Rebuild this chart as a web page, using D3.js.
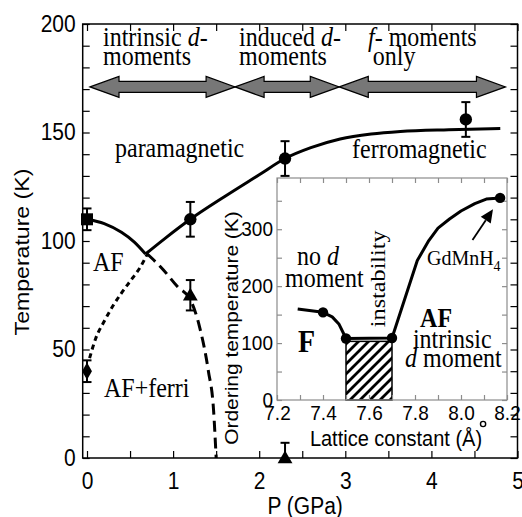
<!DOCTYPE html>
<html>
<head>
<meta charset="utf-8">
<script src="https://cdn.jsdelivr.net/npm/d3@7"></script>
<style>body{margin:0;background:#fff}</style>
</head>
<body>
<script>
const width = 522, height = 517;
const sans = "'Liberation Sans', Arial, sans-serif";
const serif = "'Liberation Serif', 'Times New Roman', serif";

// ---- main panel: T (K) vs P (GPa)
const xTicksMain = d3.range(0, 10.1, 1).map(d => d / 2);
const yTicksMain = d3.range(0, 201, 10);
// AF transition (left branch) and Curie line (right branch), solid
const neelLine = [[0,110],[0.2,108],[0.4,104],[0.55,99.5],[0.68,94]];
const curieLine = [[0.68,94],[0.9,101],[1.2,110],[1.6,120.5],[2.0,130.5],[2.3,138],[2.6,143],[2.94,147],[3.3,149.3],[3.64,150.5],[4.2,151.3],[4.8,151.8]];
// ferri boundary (dotted) and AF boundary under pressure (dashed)
const ferriLine = [[0.03,46],[0.1,55],[0.2,63],[0.3,70],[0.4,76],[0.53,83],[0.62,88],[0.7,94]];
const afLine = [[0.7,94],[0.88,87],[1.05,79],[1.2,73],[1.31,60],[1.41,40],[1.47,22],[1.5,0]];
// measured points: pressure, temperature, error, symbol
const points = [
  {p:0, t:110, lo:5, hi:5, sym:"square"},
  {p:1.2, t:110, lo:8, hi:8, sym:"circle"},
  {p:2.3, t:138, lo:8, hi:8, sym:"circle"},
  {p:4.4, t:156, lo:8, hi:8, sym:"circle"},
  {p:1.2, t:75, lo:7, hi:7, sym:"triangle"},
  {p:0, t:40, lo:5, hi:5, sym:"diamond"},
  {p:2.3, t:0, lo:0, hi:7, sym:"triangle"}
];
// regime arrows at top
const regimeT = 171;
const regimeArrows = [[0.035,1.72],[1.72,2.93],[2.93,4.86]];
const regimeLabels = [
  {p:0.186, line1:[["intrinsic ",""],["d","italic"],["-",""]], p2:0.186, line2:"moments"},
  {p:1.765, line1:[["induced ",""],["d","italic"],["-",""]], p2:1.765, line2:"moments"},
  {p:3.264, line1:[["f","italic"],["- moments",""]], p2:3.32, line2:"only"}
];

// ---- inset: ordering temperature vs lattice constant
const xTicksInset = d3.range(72, 83).map(d => d / 10);
const yTicksInset = d3.range(0, 351, 50);
const latticeCurve = [[7.29,160],[7.4,154],[7.44,146],[7.47,133],[7.5,108],[7.7,109],[7.81,245],[7.86,280],[7.9,302],[7.95,318],[8.0,332],[8.06,345],[8.11,353],[8.17,355]];
const latticeDots = [[7.4,154],[7.5,108],[7.7,109],[8.17,355]];
const instabilityBand = {from:7.5, to:7.7, top:103};

const svg = d3.select("body").append("svg")
  .attr("width", width).attr("height", height)
  .style("display", "block");

const x = d3.scaleLinear().domain([-0.05, 5]).range([82.7, 517.5]);
const y = d3.scaleLinear().domain([0, 200]).range([458, 24]);

function addText(g, px, py, parts, o = {}) {
  const t = g.append("text")
    .attr("transform", `translate(${px},${py}) scale(1,1.1)` + (o.rotate ? " rotate(-90)" : ""))
    .attr("font-family", o.family || serif)
    .attr("font-size", o.size || 24)
    .attr("font-weight", o.weight || "normal")
    .attr("text-anchor", o.anchor || "start")
    .attr("fill", "#000");
  if (typeof parts === "string") parts = [[parts, ""]];
  parts.forEach(([s, st]) => {
    const ts = t.append("tspan").text(s);
    if (st === "italic") ts.attr("font-style", "italic");
    if (st === "sub") ts.attr("font-size", (o.size || 24) * 0.7).attr("dy", 5);
  });
  return t;
}

function styleAxis(g, size, color) {
  g.select(".domain").remove();
  g.selectAll(".tick line").attr("stroke", color).attr("stroke-width", 1.2);
  g.selectAll(".tick text")
    .attr("font-family", sans).attr("font-size", size).attr("fill", "#000")
    .attr("transform", "scale(1,1.1)");
}

// main axes
svg.append("g").attr("transform", `translate(${x.range()[0]},0)`)
  .call(d3.axisLeft(y).tickValues(yTicksMain).tickSize(-7).tickPadding(7).tickFormat(d => d % 50 === 0 ? d : ""))
  .call(styleAxis, 21, "#000");
svg.append("g").attr("transform", `translate(${x.range()[1]},0)`)
  .call(d3.axisRight(y).tickValues(yTicksMain).tickSize(-7).tickFormat(""))
  .call(styleAxis, 21, "#000");
svg.append("g").attr("transform", `translate(0,${y.range()[0]})`)
  .call(d3.axisBottom(x).tickValues(xTicksMain).tickSize(-7).tickPadding(13).tickFormat(d => Number.isInteger(d) ? d : ""))
  .call(styleAxis, 21, "#000");
svg.append("g").attr("transform", `translate(0,${y.range()[1]})`)
  .call(d3.axisTop(x).tickValues(xTicksMain).tickSize(-7).tickFormat(""))
  .call(styleAxis, 21, "#000");
svg.append("rect")
  .attr("x", x.range()[0]).attr("y", y.range()[1])
  .attr("width", x.range()[1] - x.range()[0]).attr("height", y.range()[0] - y.range()[1])
  .attr("fill", "none").attr("stroke", "#000").attr("stroke-width", 1.5);

addText(svg, (x.range()[0] + x.range()[1]) / 2 + 5, 514, "P (GPa)", {family: sans, size: 21, anchor: "middle"});
addText(svg, 29, 252, "Temperature (K)", {family: sans, size: 21, anchor: "middle", rotate: true});

// regime arrows
const arrowPath = (x1, x2, cy) => {
  const h = 5.5, H = 10.5, L = 29;
  return `M${x1},${cy}L${x1+L},${cy-H}L${x1+L},${cy-h}L${x2-L},${cy-h}L${x2-L},${cy-H}L${x2},${cy}` +
         `L${x2-L},${cy+H}L${x2-L},${cy+h}L${x1+L},${cy+h}L${x1+L},${cy+H}Z`;
};
svg.selectAll("path.regime").data(regimeArrows).enter().append("path")
  .attr("class", "regime")
  .attr("d", d => arrowPath(x(d[0]), x(d[1]), y(regimeT)))
  .attr("fill", "#777").attr("stroke", "#000").attr("stroke-width", 1.2);
regimeLabels.forEach(r => {
  addText(svg, x(r.p), y(189.9), r.line1);
  addText(svg, x(r.p2), y(181.1), r.line2);
});

// phase lines
const line = d3.line().x(d => x(d[0])).y(d => y(d[1])).curve(d3.curveMonotoneX);
svg.append("path").attr("d", line(neelLine)).attr("fill", "none").attr("stroke", "#000").attr("stroke-width", 3);
svg.append("path").attr("d", line(curieLine)).attr("fill", "none").attr("stroke", "#000").attr("stroke-width", 3);
svg.append("path").attr("d", line(ferriLine)).attr("fill", "none").attr("stroke", "#000").attr("stroke-width", 3).attr("stroke-dasharray", "5,4");
svg.append("path").attr("d", line(afLine)).attr("fill", "none").attr("stroke", "#000").attr("stroke-width", 3).attr("stroke-dasharray", "11,6");

// error bars and markers
const eb = svg.append("g").selectAll("g").data(points).enter().append("g");
eb.append("line").attr("x1", d => x(d.p)).attr("x2", d => x(d.p))
  .attr("y1", d => y(d.t - d.lo)).attr("y2", d => y(d.t + d.hi))
  .attr("stroke", "#000").attr("stroke-width", 2);
eb.filter(d => d.hi > 0).append("line").attr("x1", d => x(d.p) - 4.5).attr("x2", d => x(d.p) + 4.5)
  .attr("y1", d => y(d.t + d.hi)).attr("y2", d => y(d.t + d.hi)).attr("stroke", "#000").attr("stroke-width", 2);
eb.filter(d => d.lo > 0).append("line").attr("x1", d => x(d.p) - 4.5).attr("x2", d => x(d.p) + 4.5)
  .attr("y1", d => y(d.t - d.lo)).attr("y2", d => y(d.t - d.lo)).attr("stroke", "#000").attr("stroke-width", 2);
const symType = {circle: d3.symbolCircle, square: d3.symbolSquare, triangle: d3.symbolTriangle, diamond: d3.symbolDiamond};
const symSize = {circle: 120, square: 144, triangle: 95, diamond: 85};
eb.append("path")
  .attr("transform", d => `translate(${x(d.p)},${y(d.t) + (d.sym === "triangle" ? 1 : 0)})`)
  .attr("d", d => d3.symbol(symType[d.sym], symSize[d.sym])())
  .attr("fill", "#000");

// phase labels
addText(svg, x(0.325), y(138.7), "paramagnetic");
addText(svg, x(3.078), y(138.2), "ferromagnetic");
addText(svg, x(0.07), y(86.4), "AF");
addText(svg, x(0.197), y(28.1), "AF+ferri");

// ---- inset
const xi = d3.scaleLinear().domain([7.2, 8.2]).range([277, 507]);
const yi = d3.scaleLinear().domain([0, 390]).range([400, 178]);
const inset = svg.append("g");
inset.append("rect")
  .attr("x", xi.range()[0]).attr("y", yi.range()[1])
  .attr("width", xi.range()[1] - xi.range()[0]).attr("height", yi.range()[0] - yi.range()[1])
  .attr("fill", "#fff");

const defs = svg.append("defs");
defs.append("pattern").attr("id", "hatch").attr("patternUnits", "userSpaceOnUse")
  .attr("width", 10).attr("height", 10)
  .append("path").attr("d", "M-5,5L5,-5M0,10L10,0M5,15L15,5")
  .attr("stroke", "#000").attr("stroke-width", 2.8);
inset.append("rect")
  .attr("x", xi(instabilityBand.from)).attr("y", yi(instabilityBand.top))
  .attr("width", xi(instabilityBand.to) - xi(instabilityBand.from))
  .attr("height", yi(0) - yi(instabilityBand.top))
  .attr("fill", "url(#hatch)").attr("stroke", "#000").attr("stroke-width", 1.5);

const grey = "#8c8c8c";
inset.append("g").attr("transform", `translate(0,${yi.range()[0]})`)
  .call(d3.axisBottom(xi).tickValues(xTicksInset).tickSize(-5).tickPadding(5).tickFormat(d => Math.round(d * 10) % 2 === 0 ? d.toFixed(1) : ""))
  .call(styleAxis, 19, grey);
inset.append("g").attr("transform", `translate(0,${yi.range()[1]})`)
  .call(d3.axisTop(xi).tickValues(xTicksInset).tickSize(-5).tickFormat(""))
  .call(styleAxis, 19, grey);
inset.append("g").attr("transform", `translate(${xi.range()[0]},0)`)
  .call(d3.axisLeft(yi).tickValues(yTicksInset).tickSize(-5).tickPadding(4).tickFormat(d => d % 100 === 0 ? d : ""))
  .call(styleAxis, 19, grey);
inset.append("g").attr("transform", `translate(${xi.range()[1]},0)`)
  .call(d3.axisRight(yi).tickValues(yTicksInset).tickSize(-5).tickFormat(""))
  .call(styleAxis, 19, grey);
inset.append("rect")
  .attr("x", xi.range()[0]).attr("y", yi.range()[1])
  .attr("width", xi.range()[1] - xi.range()[0]).attr("height", yi.range()[0] - yi.range()[1])
  .attr("fill", "none").attr("stroke", grey).attr("stroke-width", 1.2);

const lineI = d3.line().x(d => xi(d[0])).y(d => yi(d[1]));
inset.append("path").attr("d", lineI(latticeCurve)).attr("fill", "none")
  .attr("stroke", "#000").attr("stroke-width", 3).attr("stroke-linejoin", "round");
inset.selectAll("circle.dot").data(latticeDots).enter().append("circle")
  .attr("class", "dot").attr("cx", d => xi(d[0])).attr("cy", d => yi(d[1])).attr("r", 5.2).attr("fill", "#000");

// arrow pointing at GdMnH4
{
  const a = [xi(8.05), yi(281)], b = [xi(8.139), yi(335)];
  const dx = b[0] - a[0], dy = b[1] - a[1], len = Math.hypot(dx, dy);
  const ux = dx / len, uy = dy / len, hl = 13, hw = 6;
  const bx = b[0] - ux * hl, by = b[1] - uy * hl;
  inset.append("line").attr("x1", a[0]).attr("y1", a[1]).attr("x2", bx).attr("y2", by)
    .attr("stroke", "#000").attr("stroke-width", 1.8);
  inset.append("path")
    .attr("d", `M${b[0]},${b[1]}L${bx - uy * hw},${by + ux * hw}L${bx + uy * hw},${by - ux * hw}Z`)
    .attr("fill", "#000");
}

// stray ring near the 8.0 label
inset.append("circle").attr("cx", xi(8.096)).attr("cy", yi.range()[0] + 24).attr("r", 2.6)
  .attr("fill", "none").attr("stroke", "#000").attr("stroke-width", 1.4);

addText(inset, 396, 446, "Lattice constant (Å)", {family: sans, size: 20, anchor: "middle"});
addText(inset, 238, 328, "Ordering temperature (K)", {family: sans, size: 19, anchor: "middle", rotate: true});

addText(inset, xi(7.287), yi(237), [["no ",""],["d","italic"]]);
addText(inset, xi(7.235), yi(198.5), "moment");
addText(inset, xi(7.291), yi(84.3), "F", {weight: "bold", size: 28});
addText(inset, xi(7.67), yi(128), "instability", {size: 22, rotate: true});
addText(inset, xi(7.822), yi(128), "AF", {weight: "bold", size: 24});
addText(inset, xi(7.791), yi(91.4), "intrinsic");
addText(inset, xi(7.757), yi(58), [["d","italic"],[" moment",""]]);
addText(inset, xi(7.852), yi(237), [["GdMnH",""],["4","sub"]], {size: 20});
</script>
</body>
</html>
